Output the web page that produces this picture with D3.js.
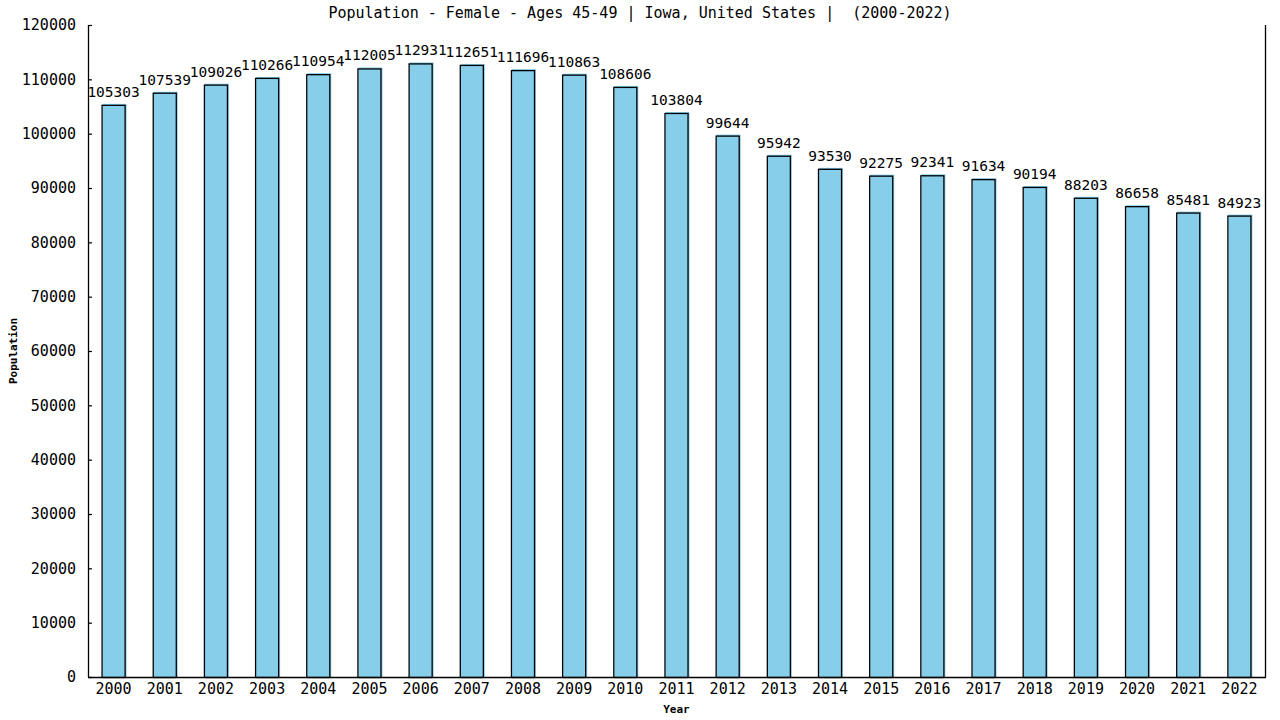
<html>
<head>
  <style>
	body{ margin:0; background:#fff }
	text{ font-family:"DejaVu Sans Mono", monospace; fill:#000 }
	.title{ font-size:15px; white-space:pre }
	.tick text{ font-size:15px }
	.val{ font-size:14.5px }
	.lab{ font-size:11px; font-weight:bold }
  </style>
</head>
<body>
	<div id="chart"></div>
	<script src="https://d3js.org/d3.v7.min.js"></script>
	<script>
	  var years  = ['2000','2001','2002','2003','2004','2005','2006','2007','2008','2009','2010','2011',
	                '2012','2013','2014','2015','2016','2017','2018','2019','2020','2021','2022'];
	  var values = [105303,107539,109026,110266,110954,112005,112931,112651,111696,110863,108606,103804,
	                99644,95942,93530,92275,92341,91634,90194,88203,86658,85481,84923];
	  var yTicks = [0,10000,20000,30000,40000,50000,60000,70000,80000,90000,100000,110000,120000];
	  var title  = 'Population - Female - Ages 45-49 | Iowa, United States |  (2000-2022)';

	  (function () {
		var
		  width  = 1280,
		  height = 720,
		  left   = 88,
		  right  = 1265,
		  top    = 25,
		  bottom = 677;

		var svg = d3.select('#chart').append('svg')
		  .attr('width', width)
		  .attr('height', height);

		var x = d3.scaleBand()
		  .domain(years)
		  .range([left, right])
		  .paddingInner(0.53)
		  .paddingOuter(0.265);

		var y = d3.scaleLinear()
		  .domain([0, 120000])
		  .range([bottom, top]);

		svg.append('text')                           // title
		  .attr('class', 'title')
		  .attr('xml:space', 'preserve')
		  .attr('x', 640)
		  .attr('y', 18)
		  .attr('text-anchor', 'middle')
		  .text(title);

		// bars: fill shifted 1px up-right, black outline on top
		var bars = svg.append('g');
		bars.selectAll('rect.fill')
		  .data(values)
		  .enter().append('rect')
		  .attr('class', 'fill')
		  .attr('x', function (d, i) { return x(years[i]) + 1; })
		  .attr('y', function (d) { return y(d) - 1; })
		  .attr('width', x.bandwidth())
		  .attr('height', function (d) { return bottom - y(d) + 1; })
		  .attr('fill', '#87ceeb');

		bars.selectAll('rect.edge')
		  .data(values)
		  .enter().append('rect')
		  .attr('class', 'edge')
		  .attr('x', function (d, i) { return x(years[i]) + 0.5; })
		  .attr('y', function (d) { return y(d) + 0.5; })
		  .attr('width', x.bandwidth() - 1)
		  .attr('height', function (d) { return bottom - y(d); })
		  .attr('fill', 'none')
		  .attr('stroke', '#000')
		  .attr('stroke-width', 1.3);

		bars.selectAll('text')                      // value labels
		  .data(values)
		  .enter().append('text')
		  .attr('class', 'val')
		  .attr('x', function (d, i) { return x(years[i]) + x.bandwidth() / 2; })
		  .attr('y', function (d) { return y(d) - 8; })
		  .attr('text-anchor', 'middle')
		  .text(function (d) { return d; });

		// y-axis
		var ya = svg.append('g')
		  .attr('transform', 'translate(' + left + ',0)')
		  .call(d3.axisLeft(y).tickValues(yTicks).tickFormat(d3.format('d')).tickSize(6).tickPadding(6));
		ya.select('.domain').remove();
		ya.selectAll('.tick line').attr('x2', 4).attr('stroke-width', 1.2);
		ya.attr('font-family', null).attr('font-size', null);

		svg.append('line')                          // y-axis line
		  .attr('x1', left + 0.5).attr('x2', left + 0.5)
		  .attr('y1', top).attr('y2', bottom)
		  .attr('stroke', '#000').attr('stroke-width', 1.3);

		svg.append('line')                          // right border
		  .attr('x1', right + 0.5).attr('x2', right + 0.5)
		  .attr('y1', top).attr('y2', bottom)
		  .attr('stroke', '#000').attr('stroke-width', 1.3);

		// x-axis
		var xa = svg.append('g')
		  .attr('transform', 'translate(0,' + bottom + ')')
		  .call(d3.axisBottom(x).tickSize(0).tickPadding(6));
		xa.select('.domain').remove();
		xa.attr('font-family', null).attr('font-size', null);
		xa.selectAll('.tick text').attr('dy', '0.71em');

		svg.append('line')
		  .attr('x1', left).attr('x2', right + 1)
		  .attr('y1', bottom + 0.5).attr('y2', bottom + 0.5)
		  .attr('stroke', '#000').attr('stroke-width', 1.3);

		svg.append('text')                          // x label
		  .attr('class', 'lab')
		  .attr('x', (left + right) / 2)
		  .attr('y', 713)
		  .attr('text-anchor', 'middle')
		  .text('Year');

		svg.append('text')                          // y label
		  .attr('class', 'lab')
		  .attr('transform', 'translate(17,351) rotate(-90)')
		  .attr('text-anchor', 'middle')
		  .text('Population');
	  })();
	</script>
</body>
</html>
